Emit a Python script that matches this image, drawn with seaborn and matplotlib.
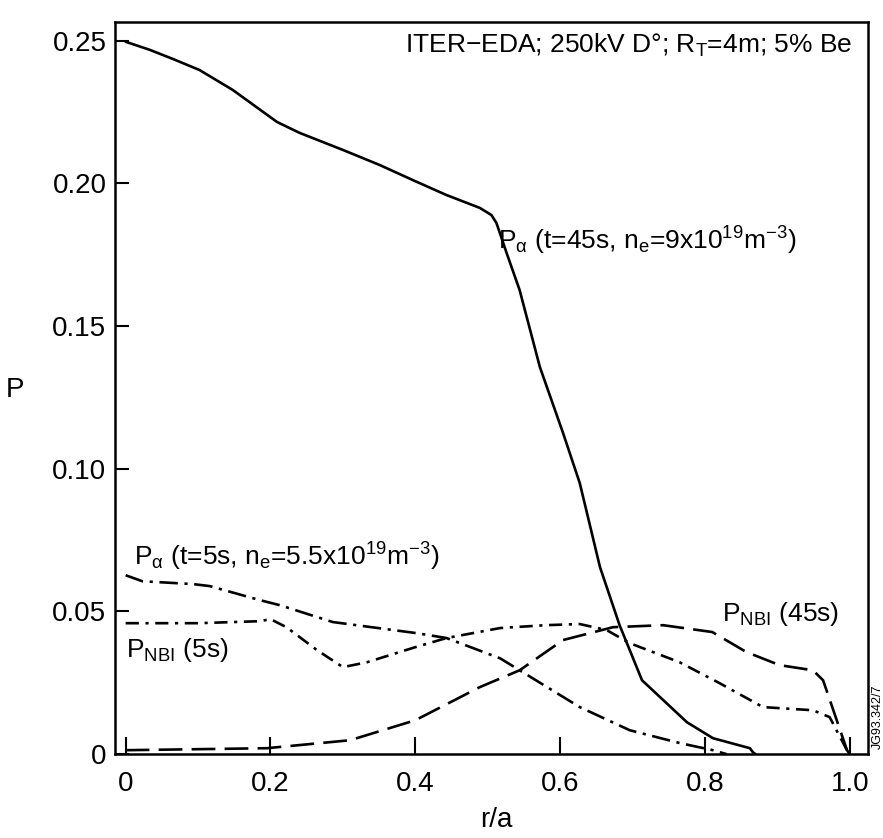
import matplotlib
matplotlib.use("Agg")
import matplotlib.pyplot as plt
import seaborn as sns
import pandas as pd

# Alpha heating profile, t = 45 s
r_alpha45 = [0.0, 0.033, 0.065, 0.102, 0.148, 0.209, 0.240, 0.300, 0.351, 0.396, 0.443,
             0.489, 0.505, 0.512, 0.526, 0.544, 0.572, 0.604, 0.627, 0.655, 0.682,
             0.713, 0.775, 0.811, 0.862, 0.866, 0.870]
p_alpha45 = [0.2496, 0.2468, 0.2436, 0.2397, 0.2327, 0.2215, 0.2177, 0.2117, 0.2064, 0.2012, 0.1959,
             0.1914, 0.1889, 0.1861, 0.1756, 0.1626, 0.1356, 0.1125, 0.0950, 0.0655, 0.0452,
             0.0259, 0.0112, 0.0056, 0.0021, 0.0007, 0.0]

# Alpha heating profile, t = 5 s
r_alpha5 = [0.0, 0.023, 0.093, 0.116, 0.185, 0.213, 0.286, 0.402, 0.443, 0.517, 0.544,
            0.627, 0.696, 0.765, 0.811, 0.830]
p_alpha5 = [0.0627, 0.0606, 0.0596, 0.0589, 0.0540, 0.0522, 0.0463, 0.0424, 0.0407, 0.0336, 0.0294,
            0.0165, 0.0084, 0.0039, 0.0014, 0.0]

# Neutral beam heating profile, t = 5 s
r_nbi5 = [0.0, 0.100, 0.185, 0.200, 0.222, 0.264, 0.300, 0.333, 0.400, 0.443, 0.517,
          0.580, 0.627, 0.664, 0.696, 0.765, 0.820, 0.880, 0.949, 0.972, 0.996, 1.0]
p_nbi5 = [0.0459, 0.0459, 0.0466, 0.0473, 0.0445, 0.0365, 0.0305, 0.0322, 0.0375, 0.0407, 0.0442,
          0.0452, 0.0456, 0.0435, 0.0389, 0.0322, 0.0249, 0.0165, 0.0154, 0.0130, 0.0014, 0.0]

# Neutral beam heating profile, t = 45 s
r_nbi45 = [0.0, 0.195, 0.310, 0.400, 0.489, 0.544, 0.604, 0.673, 0.742, 0.810, 0.857,
           0.903, 0.949, 0.963, 0.996, 1.0]
p_nbi45 = [0.0014, 0.0021, 0.0049, 0.0119, 0.0235, 0.0294, 0.0400, 0.0445, 0.0452, 0.0428, 0.0358,
           0.0312, 0.0294, 0.0259, 0.0014, 0.0]

x_ticks = [0, 0.2, 0.4, 0.6, 0.8, 1.0]
x_ticklabels = ["0", "0.2", "0.4", "0.6", "0.8", "1.0"]
y_ticks = [0, 0.05, 0.10, 0.15, 0.20, 0.25]
y_ticklabels = ["0", "0.05", "0.10", "0.15", "0.20", "0.25"]

sns.set_theme(style="ticks")
plt.rcParams["font.family"] = ["Liberation Sans", "DejaVu Sans"]
plt.rcParams["mathtext.fontset"] = "custom"
plt.rcParams["mathtext.rm"] = "Liberation Sans"
plt.rcParams["mathtext.it"] = "Liberation Sans:italic"
plt.rcParams["mathtext.default"] = "rm"
plt.rcParams["text.color"] = "black"
plt.rcParams["axes.labelcolor"] = "black"

fig = plt.figure(figsize=(8.83, 8.38), dpi=100)
ax = fig.add_axes([0.130, 0.100, 0.853, 0.874])

lw = 1.9
series = [
    (r_alpha45, p_alpha45, "-"),
    (r_alpha5, p_alpha5, (0, (7, 2.5, 1.2, 2.5))),
    (r_nbi5, p_nbi5, (0, (5, 2.5, 1.2, 2.5))),
    (r_nbi45, p_nbi45, (0, (9, 3.5))),
]
for rr, pp, ls in series:
    df = pd.DataFrame({"r": rr, "P": pp})
    sns.lineplot(data=df, x="r", y="P", ax=ax, color="black", linewidth=lw,
                 linestyle=ls, estimator=None, sort=False)

ax.set_xlim(-0.015, 1.025)
ax.set_ylim(0, 0.2566)
ax.set_xticks(x_ticks)
ax.set_xticklabels(x_ticklabels)
ax.set_yticks(y_ticks)
ax.set_yticklabels(y_ticklabels)
ax.tick_params(axis="both", direction="in", width=1.5, labelsize=20, colors="black")
ax.tick_params(axis="x", length=12, pad=12)
ax.tick_params(axis="y", length=10, pad=6)
for s in ax.spines.values():
    s.set_visible(True)
    s.set_linewidth(1.8)
    s.set_color("black")

ax.set_xlabel("r/a", fontsize=20, va="center")
ax.set_ylabel("P", fontsize=20, rotation=0, va="center", ha="center")
ax.xaxis.set_label_coords(0.507, -0.09)
ax.yaxis.set_label_coords(-0.133, 0.497)

fs = 19
ax.text(1.003, 0.2485, r"ITER$-$EDA; 250kV D°; R$_{\mathrm{T}}$=4m; 5% Be",
        ha="right", va="center", fontsize=fs)
ax.text(0.514, 0.180, r"P$_{\alpha}$ (t=45s, n$_\mathrm{e}$=9x10$^{19}$m$^{-3}$)",
        ha="left", va="center", fontsize=fs)
ax.text(0.012, 0.069, r"P$_{\alpha}$ (t=5s, n$_\mathrm{e}$=5.5x10$^{19}$m$^{-3}$)",
        ha="left", va="center", fontsize=fs)
ax.text(0.0, 0.0365, r"P$_{\mathrm{NBI}}$ (5s)", ha="left", va="center", fontsize=fs)
ax.text(0.823, 0.049, r"P$_{\mathrm{NBI}}$ (45s)", ha="left", va="center", fontsize=fs)
fig.text(0.994, 0.145, "JG93.342/7", rotation=90, ha="center", va="center", fontsize=9)

fig.savefig("out.png", dpi=100)
